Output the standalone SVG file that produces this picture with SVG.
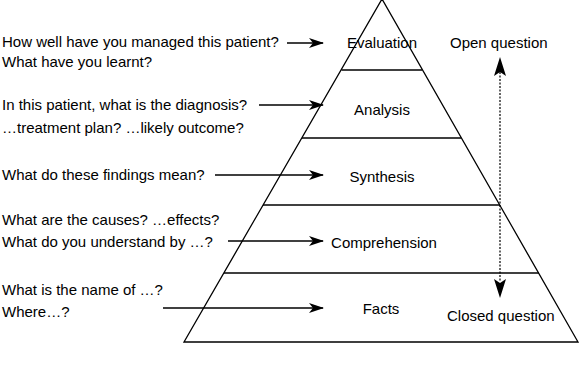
<svg xmlns="http://www.w3.org/2000/svg" width="580" height="365" viewBox="0 0 580 365">
<defs>
<style>
text{font-family:"Liberation Sans",Arial,sans-serif;font-size:15px;fill:#000}
.c{text-anchor:middle}
.ln{stroke:#000;stroke-width:1.3;fill:none}
.ar{stroke:#000;stroke-width:1.3;fill:none;marker-end:url(#ah)}
.da{stroke:#000;stroke-width:1.2;fill:none;stroke-dasharray:2,1.5}
</style>
<marker id="ah" viewBox="0 0 15 10" refX="14" refY="5" markerWidth="15" markerHeight="10" markerUnits="userSpaceOnUse" orient="auto">
<path d="M0,0 L15,5 L0,10 L4,5 z" fill="#000"/>
</marker>
</defs>
<g id="pyramid">
<polygon class="ln" points="382,-1 184,342 578,342"/>
</g>
<g id="evaluation"><line class="ln" x1="341.5" y1="70" x2="422" y2="70"/><text class="c" x="382" y="48">Evaluation</text></g>
<g id="analysis"><line class="ln" x1="302" y1="138" x2="461" y2="138"/><text class="c" x="382" y="115">Analysis</text></g>
<g id="synthesis"><line class="ln" x1="263" y1="205" x2="500" y2="205"/><text class="c" x="382" y="182">Synthesis</text></g>
<g id="comprehension"><line class="ln" x1="224" y1="273" x2="539" y2="273"/><text class="c" x="384" y="248">Comprehension</text></g>
<g id="facts"><text class="c" x="381" y="314">Facts</text></g>
<g id="open"><text x="450" y="48">Open question</text></g>
<g id="closed"><text x="447" y="321">Closed question</text></g>
<g id="q-eval"><text x="2" y="47">How well have you managed this patient?</text><text x="2" y="67">What have you learnt?</text></g>
<g id="q-analysis"><text x="2" y="110">In this patient, what is the diagnosis?</text><text x="2" y="133">…treatment plan? …likely outcome?</text></g>
<g id="q-synthesis"><text x="2" y="180">What do these findings mean?</text></g>
<g id="q-comp"><text x="2" y="225">What are the causes? …effects?</text><text x="2" y="247">What do you understand by …?</text></g>
<g id="q-facts"><text x="2" y="295">What is the name of …?</text><text x="2" y="317">Where…?</text></g>
<g id="connectors">
<line class="ar" x1="287" y1="43" x2="323" y2="43"/>
<line class="ar" x1="259" y1="105" x2="323" y2="105"/>
<line class="ar" x1="215" y1="175" x2="323" y2="175"/>
<line class="ar" x1="228" y1="241" x2="323" y2="241"/>
<line class="ar" x1="163" y1="308" x2="323" y2="308"/>
<line class="da" x1="500" y1="72" x2="500" y2="282"/>
<path d="M500,57 L506,76 L500,72 L494,76 z" fill="#000"/>
<path d="M500,298 L506,279 L500,283 L494,279 z" fill="#000"/>
</g>
</svg>
